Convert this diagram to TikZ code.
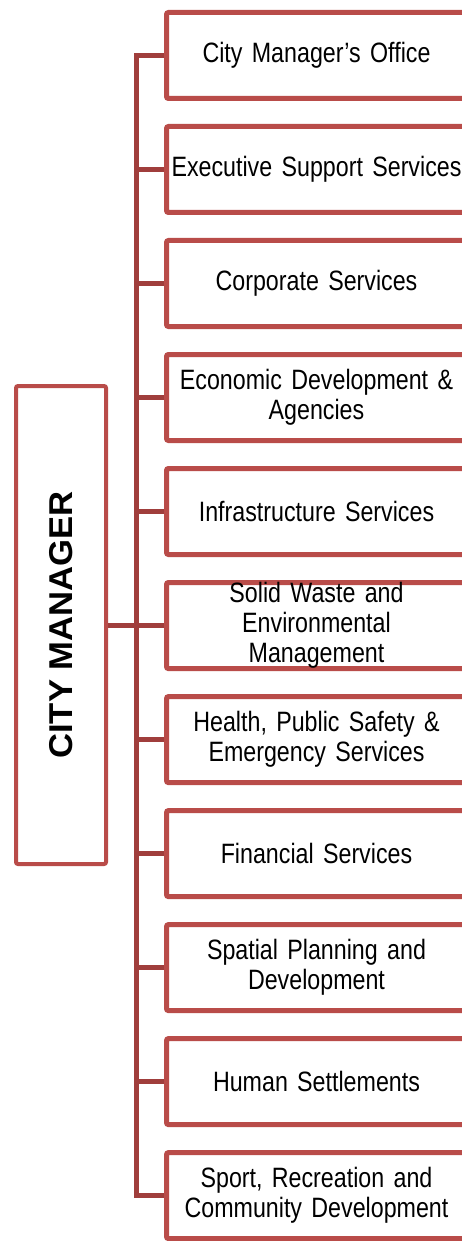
\documentclass[tikz,border=0pt]{standalone}
\usepackage{fontspec}
\setmainfont{Liberation Sans}[FakeStretch=0.83]
\newfontfamily\headfont{Liberation Sans}[FakeStretch=1.05]
\usepackage{xcolor}
\usetikzlibrary{positioning}

\definecolor{boxred}{RGB}{185,76,73}
\definecolor{linkred}{RGB}{160,62,60}

\begin{document}
\hyphenpenalty=10000
\begin{tikzpicture}[
  x=1pt, y=1pt,
  node distance=23pt,
  unit/.style={rectangle, draw=boxred, line width=5pt, rounded corners=2pt, fill=white,
    minimum width=300pt, minimum height=86pt, inner sep=0pt,
    text width=300pt, align=center, font=\fontsize{28}{30}\selectfont},
  head/.style={rectangle, draw=boxred, line width=4pt, rounded corners=2pt,
    minimum width=90pt, minimum height=478pt, inner sep=0pt},
  link/.style={draw=linkred, line width=5pt}
]
  \useasboundingbox (0,0) rectangle (462,-1241);

  % City manager
  \node[head] (cm) at (61,-625) {};
  \node[rotate=90, font=\headfont\bfseries\fontsize{33}{36}\selectfont] (cmtext) at (cm) {CITY MANAGER};

  % Departments
  \node[unit] (b1) at (316.5,-55.5) {City Manager’s Office};
  \node[unit, below=of b1] (b2) {Executive Support Services};
  \node[unit, below=of b2] (b3) {Corporate Services};
  \node[unit, below=of b3] (b4) {Economic Development \&\\Agencies};
  \node[unit, below=of b4] (b5) {Infrastructure Services};
  \node[unit, below=of b5] (b6) {Solid Waste and\\Environmental\\Management};
  \node[unit, below=of b6] (b7) {Health, Public Safety \&\\Emergency Services};
  \node[unit, below=of b7] (b8) {Financial Services};
  \node[unit, below=of b8] (b9) {Spatial Planning and\\Development};
  \node[unit, below=of b9] (b10) {Human Settlements};
  \node[unit, below=of b10] (b11) {Sport, Recreation and\\Community Development};

  % Trunk
  \coordinate[right=28.5pt of cm] (bus);
  \draw[link] (b1.west) -| (bus) |- (b11.west);
  \draw[link] (cm) -- (bus);

  % Branches
  \draw[link] (b2.west) -- (b2.west -| bus);
  \draw[link] (b3.west) -- (b3.west -| bus);
  \draw[link] (b4.west) -- (b4.west -| bus);
  \draw[link] (b5.west) -- (b5.west -| bus);
  \draw[link] (b6.west) -- (b6.west -| bus);
  \draw[link] (b7.west) -- (b7.west -| bus);
  \draw[link] (b8.west) -- (b8.west -| bus);
  \draw[link] (b9.west) -- (b9.west -| bus);
  \draw[link] (b10.west) -- (b10.west -| bus);

\end{tikzpicture}
\end{document}
